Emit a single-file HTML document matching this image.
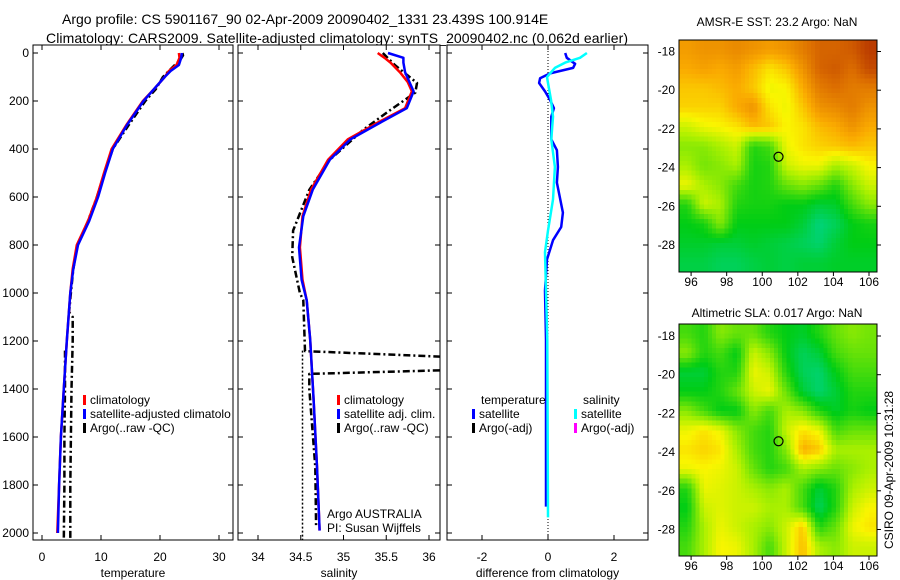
<!DOCTYPE html>
<html><head><meta charset="utf-8"><style>
html,body{margin:0;padding:0;background:#fff;}
svg{display:block;font-family:"Liberation Sans",sans-serif;}
</style></head><body>
<svg id="fig" width="900" height="580" viewBox="0 0 900 580">
<defs>
<clipPath id="c1"><rect x="33" y="45" width="200" height="495"/></clipPath>
<clipPath id="c2"><rect x="238" y="45" width="202" height="495"/></clipPath>
<clipPath id="c3"><rect x="447" y="45" width="201" height="495"/></clipPath>
<clipPath id="cm1"><rect x="679" y="40" width="198" height="232"/></clipPath>
<clipPath id="cm2"><rect x="679" y="324" width="198" height="232"/></clipPath>
</defs>
<text x="62" y="24" font-size="14">Argo profile: CS 5901167_90 02-Apr-2009 20090402_1331 23.439S 100.914E</text>
<text x="46" y="43" font-size="14" textLength="582">Climatology: CARS2009. Satellite-adjusted climatology: synTS_20090402.nc (0.062d earlier)</text>
<text x="777" y="26" font-size="12" text-anchor="middle">AMSR-E SST: 23.2 Argo: NaN</text>
<text x="777" y="317" font-size="12" text-anchor="middle">Altimetric SLA: 0.017 Argo: NaN</text>
<text transform="translate(893,470) rotate(-90)" font-size="12" text-anchor="middle">CSIRO 09-Apr-2009 10:31:28</text>
<g id="plots"></g>
</svg>
<script>
// ---------- data ----------
const tDepth = [0,20,50,75,100,150,200,300,400,500,600,700,800,900,1000,1200,1400,1600,1800,2000];
const tClim = [23.2,23.3,22.8,21.5,20.8,19,17.1,14.3,11.8,10.5,9.3,7.8,5.9,5.2,4.8,4.2,3.7,3.2,2.9,2.6];
const tSat  = [23.7,23.6,23.2,21.8,20.8,19,17.2,14.4,12,10.7,9.5,8,6.1,5.3,4.8,4.2,3.7,3.2,2.9,2.7];
const tArgoDepth = [0,10,30,50,100,150,200,300,400,500,600,700,800,900,1000,1080,1100,1200,1400,1600,1800,2030];
const tArgo = [23.8,23.9,23.4,22.5,20.5,19.3,17.5,14.7,12,10.6,9.3,7.8,6,5.3,4.9,4.6,5.2,5.2,5.0,4.9,4.8,4.8];
const tArgo2Depth = [1240,1400,1600,1800,2030];
const tArgo2 = [3.9,3.9,3.8,3.8,3.7];

const sDepth = [0,20,40,80,120,160,230,290,360,445,570,680,810,945,1030,1195,1445,1725,1990];
const sSat  = [35.52,35.70,35.70,35.72,35.77,35.82,35.74,35.43,35.08,34.84,34.64,34.53,34.48,34.51,34.57,34.61,34.65,34.69,34.72];
const sClim = [35.40,35.48,35.55,35.66,35.75,35.80,35.72,35.40,35.05,34.82,34.62,34.52,34.49,34.52,34.57,34.61,34.65,34.69,34.72];
const sArgoDepth = [0,50,125,165,237,320,445,570,740,850,1000,1030,1242,1292,1304,1337,1400,1725,1975];
const sArgo = [35.46,35.6,35.86,35.84,35.55,35.23,34.84,34.6,34.41,34.40,34.49,34.53,34.55,38,38,34.6,34.6,34.67,34.68];
const sArgo2Depth = [1240,2030];
const sArgo2 = [34.52,34.52];

const dTDepth = [0,20,45,62,85,105,125,160,195,230,265,360,405,475,540,665,725,780,860,990,1195,1890];
const dTemp = [0.52,0.57,0.82,0.76,0.06,-0.24,-0.27,-0.09,0.06,0.18,0.1,0.1,0.27,0.3,0.27,0.45,0.4,0.15,-0.03,-0.09,-0.06,-0.06];
const dSDepth = [0,20,40,62,100,125,195,265,360,475,610,740,830,990,1195,1935];
const dSal = [1.18,0.97,0.52,0.21,-0.03,0,0.09,0.15,0.1,0.21,0.15,0,-0.09,-0.06,-0.02,0];

const depthTicks = [0,200,400,600,800,1000,1200,1400,1600,1800,2000];
const tTicks = [0,10,20,30];
const sTicks = [34,34.5,35,35.5,36];
const sTickLabels = ["34","34.5","35","35.5","36"];
const dTicks = [-2,0,2];
const latTicks = [-18,-20,-22,-24,-26,-28];
const lonTicks = [96,98,100,102,104,106];

const sstGrid = [
[0.78,0.8,0.8,0.82,0.8,0.78,0.8,0.85,0.9,0.9,0.92,0.98],
[0.75,0.77,0.75,0.78,0.72,0.65,0.7,0.8,0.9,0.92,0.88,0.95],
[0.7,0.7,0.72,0.75,0.7,0.6,0.62,0.75,0.85,0.88,0.85,0.85],
[0.68,0.68,0.68,0.75,0.8,0.65,0.6,0.7,0.8,0.82,0.85,0.8],
[0.55,0.6,0.62,0.65,0.72,0.7,0.62,0.65,0.72,0.75,0.8,0.75],
[0.45,0.45,0.5,0.55,0.3,0.35,0.6,0.65,0.68,0.7,0.72,0.7],
[0.5,0.42,0.45,0.5,0.28,0.3,0.55,0.6,0.6,0.5,0.55,0.62],
[0.6,0.5,0.45,0.35,0.28,0.3,0.4,0.45,0.4,0.3,0.45,0.55],
[0.3,0.55,0.5,0.3,0.28,0.28,0.25,0.25,0.2,0.22,0.35,0.45],
[0.25,0.28,0.45,0.25,0.25,0.25,0.25,0.2,0.1,0.15,0.25,0.28],
[0.22,0.22,0.2,0.2,0.22,0.2,0.18,0.15,0.12,0.2,0.25,0.25],
[0.18,0.18,0.15,0.15,0.18,0.2,0.18,0.2,0.2,0.22,0.22,0.22]];
const slaGrid = [
[0.35,0.3,0.45,0.4,0.4,0.3,0.25,0.22,0.3,0.4,0.45,0.42],
[0.45,0.3,0.35,0.25,0.55,0.45,0.25,0.15,0.2,0.35,0.4,0.4],
[0.2,0.2,0.3,0.3,0.6,0.55,0.3,0.15,0.12,0.25,0.35,0.35],
[0.25,0.25,0.3,0.4,0.55,0.6,0.4,0.2,0.12,0.2,0.3,0.3],
[0.45,0.35,0.25,0.25,0.45,0.35,0.5,0.45,0.3,0.22,0.28,0.25],
[0.6,0.65,0.6,0.45,0.35,0.3,0.55,0.65,0.6,0.35,0.4,0.4],
[0.65,0.68,0.65,0.5,0.35,0.3,0.45,0.75,0.7,0.5,0.5,0.5],
[0.6,0.62,0.6,0.55,0.4,0.3,0.35,0.5,0.45,0.4,0.45,0.5],
[0.3,0.6,0.58,0.55,0.5,0.45,0.5,0.35,0.2,0.3,0.5,0.55],
[0.25,0.55,0.58,0.55,0.55,0.5,0.5,0.35,0.15,0.3,0.55,0.62],
[0.3,0.5,0.6,0.55,0.5,0.45,0.55,0.7,0.3,0.4,0.6,0.65],
[0.35,0.5,0.62,0.6,0.5,0.35,0.55,0.72,0.5,0.45,0.55,0.55]];
const floatLon = 100.914;
const floatLat = -23.439;

// ---------- helpers ----------
const NS = "http://www.w3.org/2000/svg";
const root = document.getElementById('plots');
function mk(tag, attrs, parent){
  const e = document.createElementNS(NS, tag);
  for (const k in attrs) e.setAttribute(k, attrs[k]);
  (parent||root).appendChild(e);
  return e;
}
const yD = d => 53 + d*0.24;
const xT = v => 42 + v*5.9;
const xS = v => 258 + (v-34)*85.5;
const xDf = v => 548 + v*33;
function pathD(vals, depths, xf){
  return vals.map((v,i)=>(i?'L':'M')+xf(v).toFixed(1)+','+yD(depths[i]).toFixed(1)).join(' ');
}
function series(vals, depths, xf, color, w, dash, clip, name){
  const p = mk('path', {d: pathD(vals, depths, xf), fill:'none', stroke:color, 'stroke-width':w, 'clip-path':'url(#'+clip+')', 'stroke-linejoin':'round'});
  if (dash) p.setAttribute('stroke-dasharray', dash);
  
  
  return p;
}
function txt(x,y,s,anchor,size){
  const t = mk('text', {x:x, y:y, 'font-size':size||12, 'text-anchor':anchor||'start'});
  t.textContent = s;
  return t;
}
function panel(x0, x1, xticks, xlabels, xf, title, clip, name, tickLabels){
  const r = mk('rect', {x:x0, y:45, width:x1-x0, height:495, fill:'#fff', stroke:'#000', 'stroke-width':1});
  
  
  depthTicks.forEach(d=>{
    mk('line',{x1:x0,x2:x0+5,y1:yD(d),y2:yD(d),stroke:'#000'});
    mk('line',{x1:x1-5,x2:x1,y1:yD(d),y2:yD(d),stroke:'#000'});
    if (tickLabels){
      const t = txt(x0-4, yD(d)+4, String(d), 'end');
      
      
    }
  });
  xticks.forEach((v,i)=>{
    const x = xf(v);
    mk('line',{x1:x,x2:x,y1:45,y2:50,stroke:'#000'});
    mk('line',{x1:x,x2:x,y1:535,y2:540,stroke:'#000'});
    const t = txt(x, 561, xlabels[i], 'middle');
    
    
  });
  const tt = txt((x0+x1)/2, 577, title, 'middle');
  
  
}
function legendEntry(x, y, color, label){
  const m = mk('rect', {x:x, y:y-9, width:3, height:10, fill:color});
  
  
  const t = txt(x+7, y, label);
  
  
}

// ---------- temperature panel ----------
panel(33, 233, tTicks, tTicks.map(String), xT, 'temperature', 'c1', 'temperature-panel', true);
series(tArgo, tArgoDepth, xT, '#000', 2.5, '7,3,2,3', 'c1', 'temp-argo-line');
series(tArgo2, tArgo2Depth, xT, '#000', 2.5, '7,3,2,3', 'c1', 'temp-argo-line-2');
series(tClim, tDepth, xT, '#f00', 2.5, null, 'c1', 'temp-climatology-line');
series(tSat, tDepth, xT, '#00f', 2.5, null, 'c1', 'temp-satellite-line');
legendEntry(83, 404, '#f00', 'climatology');
legendEntry(83, 418, '#00f', 'satellite-adjusted climatolo');
legendEntry(83, 432, '#000', 'Argo(..raw -QC)');

// ---------- salinity panel ----------
panel(238, 440, sTicks, sTickLabels, xS, 'salinity', 'c2', 'salinity-panel', false);
series(sArgo2, sArgo2Depth, xS, '#000', 1.5, '2,2', 'c2', 'sal-argo-dotted-line');
series(sArgo, sArgoDepth, xS, '#000', 2.5, '7,3,2,3', 'c2', 'sal-argo-line');
series(sClim, sDepth, xS, '#f00', 2.5, null, 'c2', 'sal-climatology-line');
series(sSat, sDepth, xS, '#00f', 2.5, null, 'c2', 'sal-satellite-line');
legendEntry(337, 404, '#f00', 'climatology');
legendEntry(337, 418, '#00f', 'satellite adj. clim.');
legendEntry(337, 432, '#000', 'Argo(..raw -QC)');
const a1 = txt(327, 518, 'Argo AUSTRALIA');


const a2 = txt(327, 532, 'PI: Susan Wijffels');



// ---------- difference panel ----------
panel(447, 648, dTicks, dTicks.map(String), xDf, 'difference from climatology', 'c3', 'difference-panel', false);
const zl = mk('line', {x1:xDf(0), x2:xDf(0), y1:45, y2:540, stroke:'#000', 'stroke-width':1, 'stroke-dasharray':'1,2'});


series(dTemp, dTDepth, xDf, '#00f', 2.5, null, 'c3', 'diff-temp-satellite-line');
series(dSal, dSDepth, xDf, '#0ff', 2.5, null, 'c3', 'diff-sal-satellite-line');
const lt = txt(481, 404, 'temperature');


const ls = txt(583, 404, 'salinity');


legendEntry(472, 418, '#00f', 'satellite');
legendEntry(472, 432, '#000', 'Argo(-adj)');
legendEntry(574, 418, '#0ff', 'satellite');
legendEntry(574, 432, '#f0f', 'Argo(-adj)');

// ---------- maps ----------
const stops = [[0,[0,215,190]],[0.25,[0,205,20]],[0.5,[170,240,0]],[0.62,[250,245,0]],[0.75,[250,170,0]],[0.88,[220,110,0]],[1,[180,50,0]]];
function cmap(v){
  v = Math.max(0, Math.min(1, v));
  for (let i=1;i<stops.length;i++){
    if (v<=stops[i][0]){
      const a=stops[i-1], b=stops[i], t=(v-a[0])/(b[0]-a[0]);
      const c=a[1].map((q,k)=>Math.round(q+(b[1][k]-q)*t));
      return 'rgb('+c.join(',')+')';
    }
  }
  return 'rgb(180,50,0)';
}
function sample(grid, fr, fc){
  const nr = grid.length, nc = grid[0].length;
  const r = Math.max(0, Math.min(nr-1, fr)), c = Math.max(0, Math.min(nc-1, fc));
  const r0 = Math.floor(r), c0 = Math.floor(c);
  const r1 = Math.min(nr-1, r0+1), c1 = Math.min(nc-1, c0+1);
  const tr = r-r0, tc = c-c0;
  const top = grid[r0][c0]*(1-tc) + grid[r0][c1]*tc;
  const bot = grid[r1][c0]*(1-tc) + grid[r1][c1]*tc;
  return top*(1-tr) + bot*tr;
}
function mapPanel(y0, grid, clip, name, latRef){
  const x0=679, w=198, h=232;
  const lonL=95.32, lonR=106.45;
  const xL = lon => x0 + (lon-lonL)/(lonR-lonL)*w;
  const yL = lat => latRef + (-18-lat)*19.35;
  const g = mk('g', {'clip-path':'url(#'+clip+')', 'shape-rendering':'crispEdges'});
  
  
  const nr = grid.length, nc = grid[0].length;
  const sub = 4;
  const NR = nr*sub, NC = nc*sub;
  const cw = w/NC, ch = h/NR;
  for (let r=0;r<NR;r++){
    for (let c=0;c<NC;c++){
      const v = sample(grid, (r+0.5)/sub-0.5, (c+0.5)/sub-0.5);
      const cell = mk('rect', {x:(x0+c*cw).toFixed(2), y:(y0+r*ch).toFixed(2), width:(cw+0.5).toFixed(2), height:(ch+0.5).toFixed(2), fill:cmap(v)}, g);
      
      
    }
  }
  const fr = mk('rect', {x:x0, y:y0, width:w, height:h, fill:'none', stroke:'#000'});
  
  
  latTicks.forEach(l=>{
    const y=yL(l);
    mk('line',{x1:x0+w,x2:x0+w+4,y1:y,y2:y,stroke:'#000'});
    const t = txt(x0-4, y+4, String(l), 'end');
    
    
  });
  lonTicks.forEach(l=>{
    const x=xL(l);
    mk('line',{x1:x,x2:x,y1:y0+h,y2:y0+h+4,stroke:'#000'});
    const t = txt(x, y0+h+14, String(l), 'middle');
    
    
  });
  const c = mk('circle', {cx:xL(floatLon), cy:yL(floatLat), r:4.5, fill:'none', stroke:'#000', 'stroke-width':1.2});
  
  
}
mapPanel(40, sstGrid, 'cm1', 'sst-map', 51.5);
mapPanel(324, slaGrid, 'cm2', 'sla-map', 336);
</script>
</body></html>
